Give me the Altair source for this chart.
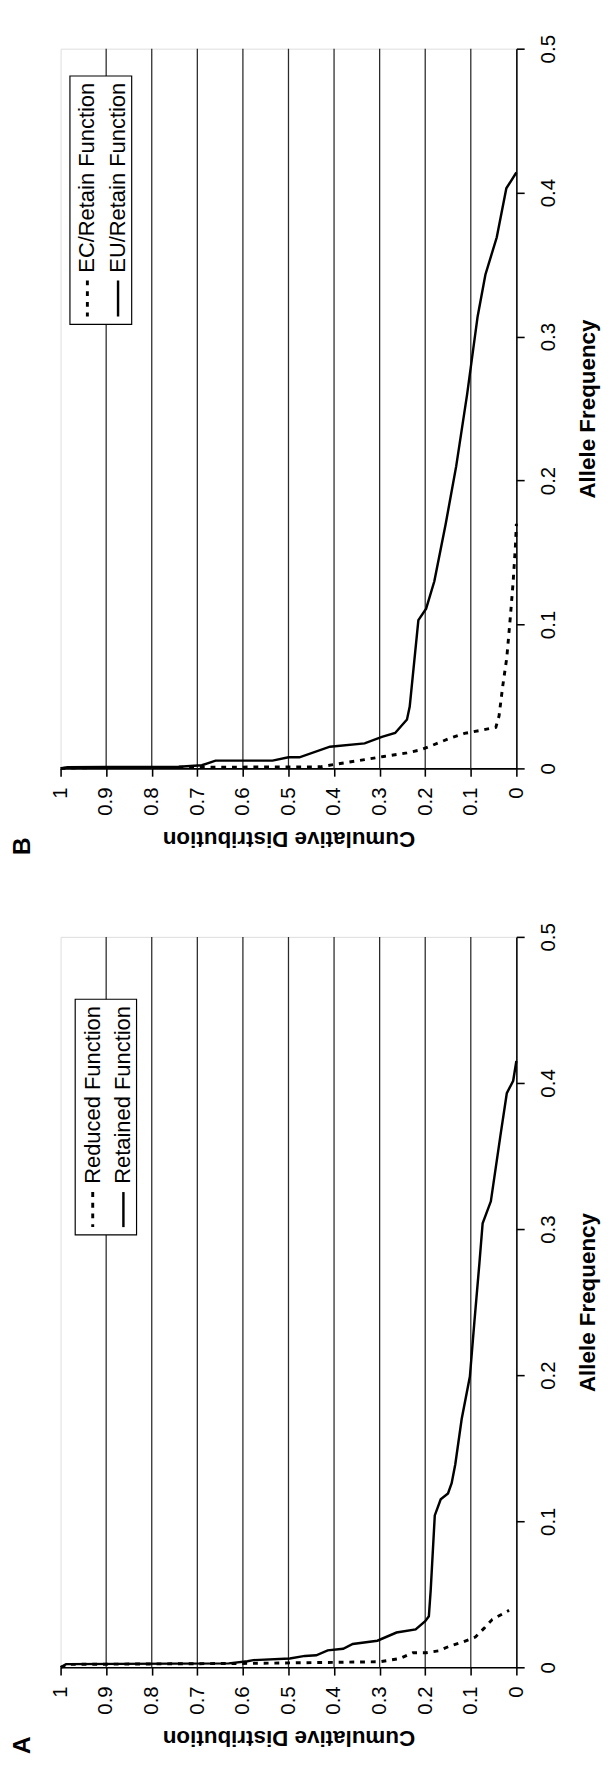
import altair as alt
import pandas as pd

FONT = "Liberation Sans"

cum_ticks = [0, 0.1, 0.2, 0.3, 0.4, 0.5, 0.6, 0.7, 0.8, 0.9, 1]
freq_ticks = [0, 0.1, 0.2, 0.3, 0.4, 0.5]
grid_values = [0.1, 0.2, 0.3, 0.4, 0.5, 0.6, 0.7, 0.8, 0.9]

# Panel B: EU/Retain Function (solid)
b_eu_freq = [0, 0.0008, 0.0010, 0.0011, 0.0022, 0.0054, 0.0054, 0.0077, 0.0077, 0.0151, 0.0174,
             0.0219, 0.0246, 0.034, 0.043, 0.103, 0.111, 0.13, 0.17, 0.21, 0.26, 0.314, 0.343,
             0.369, 0.403, 0.414]
b_eu_cum = [1.0, 0.985, 0.90, 0.74, 0.69, 0.66, 0.535, 0.50, 0.476, 0.409, 0.333,
            0.295, 0.266, 0.240, 0.234, 0.215, 0.198, 0.18, 0.155, 0.132, 0.108, 0.085, 0.068,
            0.043, 0.022, 0.0]
# Panel B: EC/Retain Function (dashed)
b_ec_freq = [0, 0.0005, 0.0008, 0.0011, 0.0027, 0.0061, 0.0083, 0.0108, 0.0128, 0.0158, 0.0207,
             0.0243, 0.0264, 0.0286, 0.0365, 0.057, 0.077, 0.106, 0.13, 0.155, 0.17]
b_ec_cum = [1.0, 0.95, 0.70, 0.43, 0.40, 0.333, 0.291, 0.24, 0.211, 0.186, 0.148,
            0.114, 0.079, 0.045, 0.038, 0.030, 0.021, 0.013, 0.007, 0.002, 0.0]

# Panel A: Retained Function (solid)
a_ret_freq = [0, 0.0022, 0.0027, 0.0042, 0.0049, 0.006, 0.0078, 0.0082, 0.0116, 0.0127, 0.016,
              0.0182, 0.0238, 0.026, 0.0316, 0.0349, 0.0527, 0.104, 0.115, 0.119, 0.126, 0.139,
              0.17, 0.199, 0.237, 0.277, 0.304, 0.319, 0.364, 0.393, 0.4015, 0.415]
a_ret_cum = [1.0, 0.988, 0.631, 0.59, 0.577, 0.497, 0.464, 0.439, 0.414, 0.38, 0.359,
             0.305, 0.263, 0.221, 0.20, 0.192, 0.188, 0.179, 0.166, 0.150, 0.142, 0.134,
             0.12, 0.102, 0.092, 0.081, 0.074, 0.056, 0.035, 0.021, 0.007, 0.0]
# Panel A: Reduced Function (dashed)
a_red_freq = [0, 0.002, 0.0027, 0.0038, 0.006, 0.01, 0.01, 0.0113, 0.0147, 0.0173, 0.0207,
              0.027, 0.0327, 0.039]
a_red_cum = [1.0, 0.98, 0.58, 0.30, 0.256, 0.227, 0.198, 0.17, 0.145, 0.118, 0.09,
             0.07, 0.053, 0.016]


def series_df(freq, cum):
    return pd.DataFrame({"freq": freq, "cum": cum, "idx": list(range(len(freq)))})


def panel(letter, height, solid, dashed, labels, box, texts_x, text_top, sym_y):
    W = 468
    xscale = alt.Scale(domain=[0, 1], reverse=True, nice=False, zero=False)
    yscale = alt.Scale(domain=[0, 0.5], nice=False, zero=False)
    xaxis = alt.Axis(
        orient="bottom", values=cum_ticks, format="~g", grid=False,
        domainColor="black", domainWidth=1.6, tickColor="black", tickWidth=1.6, tickSize=8,
        labelAngle=270, labelAlign="right", labelBaseline="middle", labelPadding=11,
        labelFont=FONT, labelFontSize=21, labelColor="black", labelFlush=False, labelOverlap=False,
        title="Cumulative Distribution", titleFont=FONT, titleFontSize=23, titleFontWeight="bold",
        titleColor="black", titleAngle=180, titleX=W / 2, titleY=72,
        titleAlign="center", titleBaseline="middle",
    )
    yaxis = alt.Axis(
        orient="right", values=freq_ticks, format="~g", grid=False,
        domainColor="black", domainWidth=1.6, tickColor="black", tickWidth=1.6, tickSize=8,
        labelAngle=270, labelAlign="center", labelBaseline="middle", labelPadding=25,
        labelFont=FONT, labelFontSize=21, labelColor="black", labelFlush=False, labelOverlap=False,
        title="Allele Frequency", titleFont=FONT, titleFontSize=23, titleFontWeight="bold",
        titleColor="black", titleAngle=270, titleX=73, titleY=height / 2,
        titleAlign="center", titleBaseline="middle",
    )
    X = alt.X("cum:Q", scale=xscale, axis=xaxis)
    Y = alt.Y("freq:Q", scale=yscale, axis=yaxis)

    grid = alt.Chart(pd.DataFrame({"cum": grid_values})).mark_rule(
        color="#2a2a2a", strokeWidth=1.3).encode(x=X)

    solid_line = alt.Chart(series_df(*solid)).mark_line(
        color="black", strokeWidth=2.5).encode(x=X, y=Y, order="idx:Q")
    dashed_line = alt.Chart(series_df(*dashed)).mark_line(
        color="black", strokeWidth=3, strokeDash=[5, 6]).encode(x=X, y=Y, order="idx:Q")

    one = pd.DataFrame({"k": [0]})
    bx0, bx1, by0, by1 = box
    leg_box = alt.Chart(one).mark_rect(fill="white", stroke="black", strokeWidth=1.2).encode(
        x=alt.value(bx0), x2=alt.value(bx1), y=alt.value(by0), y2=alt.value(by1))
    layers = [grid, solid_line, dashed_line, leg_box]
    for lab, tx, dash in zip(labels, texts_x, [True, False]):
        layers.append(alt.Chart(one).mark_text(
            text=lab, angle=270, align="right", baseline="middle", font=FONT,
            fontSize=22.5, color="black").encode(x=alt.value(tx), y=alt.value(text_top)))
        rule_kw = dict(color="black", strokeWidth=2.5)
        if dash:
            rule_kw.update(strokeDash=[5, 6], strokeWidth=3)
        layers.append(alt.Chart(one).mark_rule(**rule_kw).encode(
            x=alt.value(tx), y=alt.value(sym_y[0]), y2=alt.value(sym_y[1])))
    layers.append(alt.Chart(one).mark_text(
        text=letter, angle=270, align="center", baseline="middle", font=FONT,
        fontSize=25, fontWeight="bold", color="black").encode(
        x=alt.value(-39), y=alt.value(height + 80)))
    return alt.layer(*layers).properties(width=W, height=height)


panel_b = panel("B", 739, (b_eu_freq, b_eu_cum), (b_ec_freq, b_ec_cum),
                ["EC/Retain Function", "EU/Retain Function"],
                (9.6, 73, 28, 283), (27.5, 59), 35, (238, 275))
panel_a = panel("A", 750, (a_ret_freq, a_ret_cum), (a_red_freq, a_red_cum),
                ["Reduced Function", "Retained Function"],
                (15, 78, 64, 306), (33, 64.5), 71, (262, 298))

chart = alt.vconcat(panel_b, panel_a, spacing=67).properties(
    padding={"left": 2, "top": 2, "right": 5, "bottom": 5}
).configure_view(stroke="#999999", strokeWidth=1).configure(font=FONT)

chart.save("out.html", embed_options={"renderer": "svg", "actions": False})
